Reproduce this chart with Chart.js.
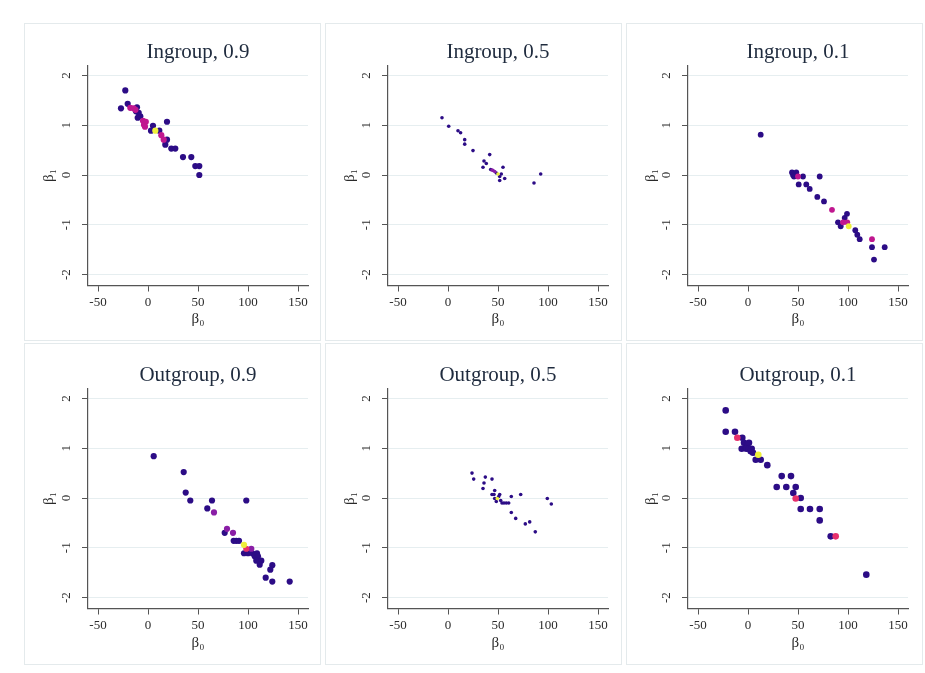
<!DOCTYPE html>
<html>
<head>
<meta charset="utf-8">
<script src="https://cdn.jsdelivr.net/npm/chart.js@4"></script>
<style>
  body { margin: 0; background: #fff; }
  #wrap { position: relative; width: 925px; height: 673px; }
  .panel { position: absolute; box-sizing: border-box; border: 1px solid #e4eaec; }
  .panel canvas { position: absolute; left: 0; top: 0; }
</style>
</head>
<body>
<div id="wrap"></div>
<script>
// axis ticks
const xTicks = [-50, 0, 50, 100, 150]
const yTicks = [-2, -1, 0, 1, 2]

// panel titles
const titles = ["Ingroup, 0.9", "Ingroup, 0.5", "Ingroup, 0.1", "Outgroup, 0.9", "Outgroup, 0.5", "Outgroup, 0.1"]

// Ingroup, 0.9  [beta0, beta1]
const in9Dark = [[-27, 1.34], [-22.7, 1.70], [-20.3, 1.43], [-11, 1.36], [-9.3, 1.25], [-7.7, 1.18], [-10.3, 1.15],
  [-12, 1.28], [5, 0.99], [3, 0.89], [11.3, 0.89], [17.3, 0.61], [19, 0.71], [19, 1.07], [23.3, 0.53], [27.3, 0.53],
  [35, 0.36], [43.3, 0.36], [47.3, 0.18], [51.3, 0.18], [51.3, 0.0]]
const in9Mag = [[-17.7, 1.35], [-14.3, 1.34], [-12.5, 1.31], [-5, 1.09], [-2.2, 1.07], [-4, 1.01], [-3, 0.97], [13.3, 0.80], [15.7, 0.71]]
const in9Top = [[7.3, 0.89]]

// Ingroup, 0.5
const in5Dark = [[-6, 1.15], [0.7, 0.98], [10, 0.89], [12.6, 0.85], [16.7, 0.71], [16.7, 0.62], [25, 0.49], [41.7, 0.41],
  [36, 0.28], [38.3, 0.23], [35, 0.155], [55, 0.155], [42.7, 0.11], [48.3, 0.04], [53.3, 0.02], [51.7, -0.03],
  [56.7, -0.07], [51.7, -0.11], [86, -0.16], [92.7, 0.02]]
const in5Mid = [[44, 0.1], [45, 0.09], [46.7, 0.07]]
const in5Top = [[50, 0.02]]

// Ingroup, 0.1
const in1Dark = [[12.7, 0.81], [44, 0.05], [48.3, 0.05], [45, 0.0], [46, -0.03], [55, -0.03], [71.7, -0.03], [50.7, -0.19],
  [58.3, -0.19], [61.7, -0.28], [69.3, -0.44], [76, -0.53], [99, -0.78], [96.7, -0.86], [90, -0.95], [92.7, -1.03],
  [107.3, -1.11], [109.3, -1.20], [111.7, -1.29], [124, -1.45], [136.7, -1.45], [126, -1.70]]
const in1Mag = [[50, -0.03], [84, -0.70], [95, -0.95], [99.3, -0.95], [124, -1.29]]
const in1Top = [[100.7, -1.03]]

// Outgroup, 0.9
const out9Dark = [[5.7, 0.84], [35.7, 0.52], [37.7, 0.11], [42.3, -0.05], [64, -0.05], [98.3, -0.05], [59.3, -0.21],
  [76.7, -0.70], [85.7, -0.86], [88.3, -0.86], [91, -0.86], [96, -1.11], [100, -1.11], [104.3, -1.11], [109, -1.11],
  [106.7, -1.17], [110, -1.17], [108.3, -1.26], [113.3, -1.26], [111.7, -1.34], [124.3, -1.35], [122.3, -1.44],
  [117.7, -1.60], [124.3, -1.68], [141.7, -1.68]]
const out9Mid = [[66, -0.29], [79, -0.62], [85, -0.70], [103.3, -1.02]]
const out9Mag = [[98.3, -1.02]]
const out9Top = [[96, -0.94]]

// Outgroup, 0.5
const out5Dark = [[24, 0.50], [25.7, 0.38], [37.3, 0.42], [44, 0.38], [36, 0.30], [35, 0.19], [46.7, 0.15], [44, 0.07],
  [46, 0.07], [51.7, 0.07], [46.7, -0.01], [50.7, 0.03], [48.3, -0.07], [52.7, -0.05], [54, -0.10], [56, -0.10],
  [58.3, -0.10], [60.7, -0.10], [63.3, 0.03], [72.7, 0.07], [63.3, -0.29], [67.7, -0.41], [77.3, -0.52],
  [81.7, -0.48], [87.3, -0.68], [99.3, -0.01], [103.3, -0.12]]
const out5Top = [[49.3, -0.01]]

// Outgroup, 0.1
const out1Dark = [[-22.3, 1.76], [-22.3, 1.33], [-13, 1.33], [-5.7, 1.21], [-6.3, 0.99], [-4, 1.11], [-2.3, 1.04],
  [-0.7, 1.07], [1, 1.11], [-1.7, 0.99], [1, 0.99], [3.7, 0.99], [2.7, 0.94], [5, 0.91], [7.7, 0.77], [12.7, 0.77],
  [19.3, 0.66], [33.7, 0.44], [43, 0.44], [28.7, 0.22], [38.3, 0.22], [47.7, 0.22], [45.3, 0.10], [52.7, 0.0],
  [52.7, -0.22], [62, -0.22], [71.7, -0.22], [71.7, -0.45], [82.7, -0.77], [118.3, -1.54]]
const out1Red = [[-10.7, 1.21], [47.7, -0.01], [87.7, -0.77]]
const out1Top = [[10.3, 0.87]]

const DARK = "#2c0c86"
const MID = "#8a1ea6"
const MAG = "#c0178f"
const RED = "#e6306c"
const YEL = "#eef03a"
const SERIF = "'Liberation Serif', 'Times New Roman', serif"

const panels = [
  { groups: [[in9Top, YEL], [in9Mag, MAG], [in9Dark, DARK]], r: 3.1 },
  { groups: [[in5Top, YEL], [in5Mid, MID], [in5Dark, DARK]], r: 1.8 },
  { groups: [[in1Top, YEL], [in1Mag, MAG], [in1Dark, DARK]], r: 2.9 },
  { groups: [[out9Top, YEL], [out9Mag, RED], [out9Mid, MID], [out9Dark, DARK]], r: 3.1 },
  { groups: [[out5Top, YEL], [out5Dark, DARK]], r: 1.8 },
  { groups: [[out1Top, YEL], [out1Red, RED], [out1Dark, DARK]], r: 3.3 }
]

const panelTitle = {
  id: "panelTitle",
  afterDraw(chart, args, opts) {
    const { ctx, chartArea } = chart
    ctx.save()
    ctx.font = "21px " + SERIF
    ctx.fillStyle = "#1f2b3e"
    ctx.textAlign = "center"
    ctx.textBaseline = "alphabetic"
    ctx.fillText(opts.text, (chartArea.left + chartArea.right) / 2, chartArea.top - 8)
    ctx.restore()
  }
}

const boxLeft = [24, 325, 626]
const boxTop = [23, 343]
const boxH = [318, 322]
const plotLeft = [87, 387, 687]
const plotTop = [64.5, 387.5]
const PLOT = 220

function makePanel(i) {
  const c = i % 3
  const r = Math.floor(i / 3)
  const div = document.createElement("div")
  div.className = "panel"
  div.style.left = boxLeft[c] + "px"
  div.style.top = boxTop[r] + "px"
  div.style.width = "297px"
  div.style.height = boxH[r] + "px"
  const canvas = document.createElement("canvas")
  const w = 297, h = boxH[r]
  canvas.width = w
  canvas.height = h
  canvas.style.width = w + "px"
  canvas.style.height = h + "px"
  div.appendChild(canvas)
  document.getElementById("wrap").appendChild(div)

  const yW = plotLeft[c] - boxLeft[c]
  const padTop = plotTop[r] - boxTop[r]
  const xH = h - padTop - PLOT
  const padRight = w - yW - PLOT

  const p = panels[i]
  new Chart(canvas, {
    type: "scatter",
    data: {
      datasets: p.groups.map(g => ({
        data: g[0].map(d => ({ x: d[0], y: d[1] })),
        backgroundColor: g[1],
        borderColor: g[1],
        borderWidth: 0,
        pointRadius: p.r
      }))
    },
    options: {
      responsive: false,
      animation: false,
      events: [],
      layout: { padding: { top: padTop, right: padRight, left: 0, bottom: 0 } },
      plugins: {
        legend: { display: false },
        tooltip: { enabled: false },
        panelTitle: { text: titles[i] }
      },
      scales: {
        x: {
          min: -60,
          max: 160,
          afterBuildTicks: s => { s.ticks = xTicks.map(v => ({ value: v })) },
          afterFit: s => { s.height = xH },
          grid: { drawOnChartArea: false, tickColor: "#555", tickLength: 6 },
          border: { color: "#555", width: 1.2 },
          ticks: { font: { family: SERIF, size: 13 }, color: "#2a2a2a", padding: 3, maxRotation: 0 },
          title: { display: true, text: "β₀", font: { family: SERIF, size: 15 }, color: "#2a2a2a", padding: { bottom: 14 } }
        },
        y: {
          min: -2.22,
          max: 2.2,
          afterBuildTicks: s => { s.ticks = yTicks.map(v => ({ value: v })) },
          afterFit: s => { s.width = yW },
          grid: { color: "#e6eef0", tickColor: "#555", tickLength: 6 },
          border: { color: "#555", width: 1.2 },
          ticks: { font: { family: SERIF, size: 13 }, color: "#2a2a2a", padding: 10, minRotation: 90, maxRotation: 90, crossAlign: "center" },
          title: { display: true, text: "β₁", font: { family: SERIF, size: 15 }, color: "#2a2a2a", padding: { top: 15 } }
        }
      }
    },
    plugins: [panelTitle]
  })
}

for (let i = 0; i < 6; i++) makePanel(i)
</script>
</body>
</html>
